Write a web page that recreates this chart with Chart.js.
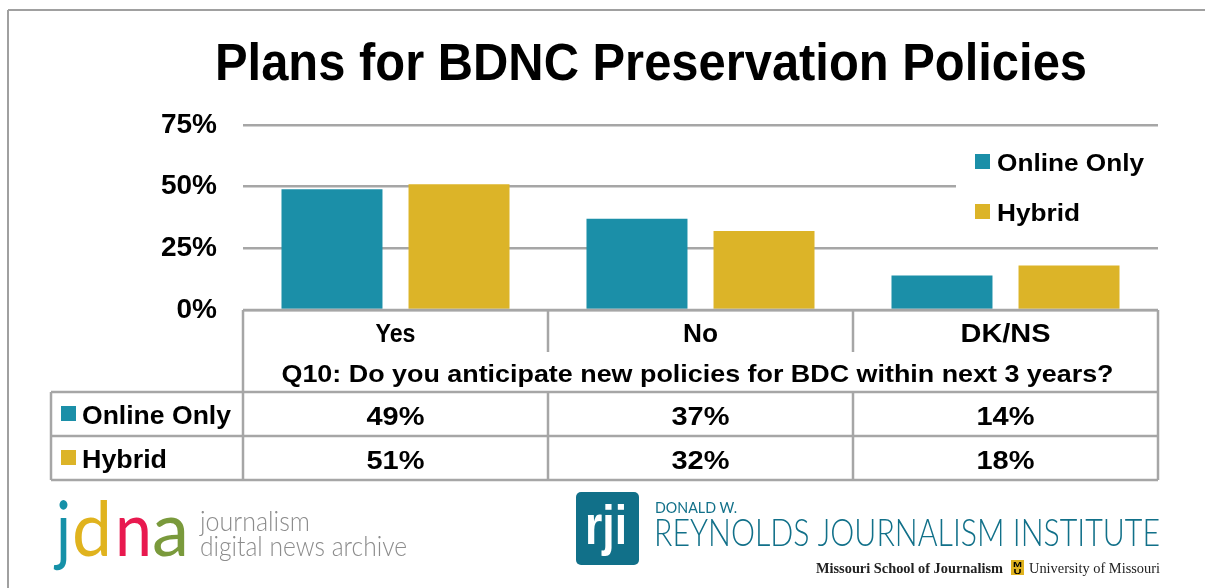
<!DOCTYPE html>
<html>
<head>
<meta charset="utf-8">
<script src="https://cdn.jsdelivr.net/npm/chart.js@4.4.1/dist/chart.umd.min.js"></script>
<style>
  html, body { margin: 0; padding: 0; background: #fff; }
  #wrap { width: 1205px; height: 588px; }
</style>
</head>
<body>
<div id="wrap"><canvas id="chart" width="1205" height="588"></canvas></div>
<script>
// data
const categories = ["Yes", "No", "DK/NS"];
const seriesNames = ["Online Only", "Hybrid"];
const onlineOnly = [49, 37, 14];
const hybrid = [51, 32, 18];
const yTicks = [0, 25, 50, 75];
const question = "Q10: Do you anticipate new policies for BDC within next 3 years?";
const chartTitle = "Plans for BDNC Preservation Policies";

const TEAL = "#1b8fa8";
const GOLD = "#dcb428";
const LINE = "#a6a6a6";
const SANS = '"Liberation Sans", Arial, sans-serif';

// draw text, squeezed or stretched horizontally to a target width
function txt(ctx, s, x, y, font, width, align, color) {
  ctx.save();
  ctx.font = font;
  ctx.fillStyle = color || "#000";
  ctx.textBaseline = "alphabetic";
  const w = ctx.measureText(s).width;
  const k = width ? width / w : 1;
  ctx.translate(x, y);
  ctx.scale(k, 1);
  ctx.textAlign = align || "left";
  ctx.fillText(s, 0, 0);
  ctx.restore();
}

function line(ctx, x1, y1, x2, y2) {
  ctx.beginPath();
  ctx.moveTo(x1, y1);
  ctx.lineTo(x2, y2);
  ctx.stroke();
}

const extras = {
  id: "extras",
  afterDraw(chart) {
    const ctx = chart.ctx;
    const area = chart.chartArea;
    const xs = chart.scales.x;
    const colW = (area.right - area.left) / categories.length;

    // outer frame
    ctx.save();
    ctx.strokeStyle = "#a0a0a0";
    ctx.lineWidth = 2;
    line(ctx, 8, 10, 8, 588);
    line(ctx, 8, 10, 1205, 10);
    ctx.restore();

    // title
    txt(ctx, chartTitle, 215, 80, "bold 51px " + SANS, 872, "left");

    // legend box
    ctx.fillStyle = "#fff";
    ctx.fillRect(956, 138, 202, 100);
    const legendY = [171, 221];
    const legendW = [147, 83];
    [TEAL, GOLD].forEach((c, i) => {
      ctx.fillStyle = c;
      ctx.fillRect(975, legendY[i] - 17, 15, 15);
      txt(ctx, seriesNames[i], 997, legendY[i], "bold 23px " + SANS, legendW[i], "left");
    });

    // table grid
    ctx.save();
    ctx.strokeStyle = LINE;
    ctx.lineWidth = 2.5;
    const L = area.left, R = area.right, T = area.bottom;
    const tabL = 51, qBot = 392, r1 = 436, r2 = 480;
    line(ctx, L, T, R, T);
    line(ctx, L, T, L, r2);
    line(ctx, R, T, R, r2);
    line(ctx, tabL, qBot, R, qBot);
    line(ctx, tabL, r1, R, r1);
    line(ctx, tabL, r2, R, r2);
    line(ctx, tabL, qBot, tabL, r2);
    for (let i = 1; i < categories.length; i++) {
      const x = L + colW * i;
      line(ctx, x, T, x, 352);
      line(ctx, x, qBot, x, r2);
    }
    ctx.restore();

    // category labels, question, values
    const catW = [40, 35, 90];
    categories.forEach((c, i) => {
      const cx = xs.getPixelForValue(i);
      txt(ctx, c, cx, 342, "bold 25px " + SANS, catW[i], "center");
      txt(ctx, onlineOnly[i] + "%", cx, 425, "bold 26px " + SANS, 58, "center");
      txt(ctx, hybrid[i] + "%", cx, 469, "bold 26px " + SANS, 58, "center");
    });
    txt(ctx, question, (L + R) / 2 - 3, 382, "bold 24px " + SANS, 832, "center");

    // row labels
    ctx.fillStyle = TEAL;
    ctx.fillRect(61, 406, 15, 15);
    ctx.fillStyle = GOLD;
    ctx.fillRect(61, 450, 15, 15);
    txt(ctx, seriesNames[0], 82, 424, "bold 25px " + SANS, 149, "left");
    txt(ctx, seriesNames[1], 82, 468, "bold 25px " + SANS, 85, "left");

    // jdna logo
    const logoFont = "76px Lato, sans-serif";
    const jdna = [["j", "#1591a8", 56, 15], ["d", "#e0b31e", 72, 40], ["n", "#e8194f", 115, 37], ["a", "#7a9a3c", 152, 37]];
    jdna.forEach(([ch, col, x, w]) => txt(ctx, ch, x, 556, logoFont, w, "left", col));
    txt(ctx, "journalism", 200, 531, "300 27px Lato, sans-serif", 110, "left", "#8c8c8c");
    txt(ctx, "digital news archive", 200, 556, "300 27px Lato, sans-serif", 207, "left", "#8c8c8c");

    // rji logo
    ctx.fillStyle = "#117089";
    ctx.beginPath();
    ctx.roundRect(576, 492, 63, 73, 5);
    ctx.fill();
    txt(ctx, "rji", 606, 544, "bold 56px " + SANS, 42, "center", "#fff");
    txt(ctx, "DONALD W.", 655, 513, "15px Lato, sans-serif", 82, "left", "#117089");
    txt(ctx, "REYNOLDS JOURNALISM INSTITUTE", 654, 546, "300 37px Lato, sans-serif", 506, "left", "#117089");
    txt(ctx, "Missouri School of Journalism", 816, 573, "bold 14px \"Liberation Serif\", serif", 187, "left", "#222");
    ctx.fillStyle = "#e0b31e";
    ctx.fillRect(1011, 560, 13, 15);
    txt(ctx, "M", 1017.5, 567, "bold 8px " + SANS, 9, "center", "#000");
    txt(ctx, "U", 1017.5, 574, "bold 8px " + SANS, 8, "center", "#000");
    txt(ctx, "University of Missouri", 1029, 573, "14px \"Liberation Serif\", serif", 131, "left", "#222");
  }
};

new Chart(document.getElementById("chart"), {
  type: "bar",
  data: {
    labels: categories,
    datasets: [
      { label: seriesNames[0], data: onlineOnly, backgroundColor: TEAL },
      { label: seriesNames[1], data: hybrid, backgroundColor: GOLD }
    ]
  },
  options: {
    responsive: false,
    devicePixelRatio: 1,
    animation: false,
    categoryPercentage: 0.833,
    barPercentage: 0.795,
    layout: { padding: { left: 0, top: 125, right: 47, bottom: 278 } },
    plugins: {
      legend: { display: false },
      title: { display: false },
      tooltip: { enabled: false }
    },
    scales: {
      x: { display: false },
      y: {
        min: yTicks[0],
        max: yTicks[yTicks.length - 1],
        afterFit: s => { s.width = 243; },
        afterBuildTicks: s => { s.ticks = yTicks.map(v => ({ value: v })); },
        ticks: {
          callback: v => v + "%",
          color: "#000",
          font: { family: SANS, size: 28, weight: "bold" },
          padding: 26
        },
        grid: { color: LINE, lineWidth: 2.5, drawTicks: false },
        border: { display: false }
      }
    }
  },
  plugins: [extras]
});
</script>
</body>
</html>
